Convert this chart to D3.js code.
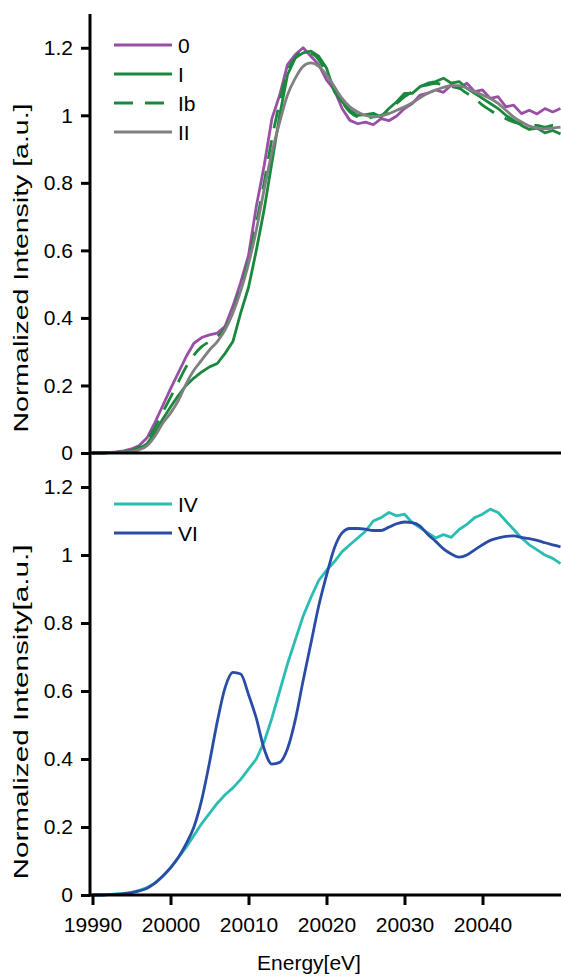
<!DOCTYPE html>
<html>
<head>
<meta charset="utf-8">
<script src="https://cdn.jsdelivr.net/npm/d3@7"></script>
<style>
  body { margin: 0; background: #fff; }
  svg { display: block; font-family: "Liberation Sans", Arial, sans-serif; }
</style>
</head>
<body>
<svg width="561" height="976"></svg>
<script>
var width = 561,
  height = 976;

// energy grid, 1 eV steps
var energy = d3.range(19990, 20051, 1);

var s0 = [0, 0, 0.001, 0.003, 0.006, 0.012, 0.022, 0.045, 0.09, 0.14,
  0.19, 0.237, 0.285, 0.325, 0.342, 0.35, 0.355, 0.375, 0.435, 0.505,
  0.585, 0.73, 0.85, 0.99, 1.06, 1.15, 1.18, 1.2, 1.175, 1.15,
  1.105, 1.075, 1.02, 0.985, 0.975, 0.98, 0.972, 0.99, 0.984, 0.998,
  1.02, 1.035, 1.06, 1.066, 1.075, 1.068, 1.09, 1.08, 1.095, 1.07,
  1.075, 1.05, 1.055, 1.025, 1.03, 1.005, 1.015, 1.004, 1.02, 1.01, 1.02];

var sI = [0, 0, 0.001, 0.002, 0.003, 0.005, 0.012, 0.028, 0.06, 0.1,
  0.136, 0.17, 0.2, 0.222, 0.24, 0.255, 0.265, 0.295, 0.33, 0.415,
  0.49, 0.6, 0.72, 0.86, 1.0, 1.12, 1.17, 1.185, 1.19, 1.175,
  1.14, 1.07, 1.04, 1.015, 1.0, 1.002, 1.006, 0.995, 1.02, 1.04,
  1.065, 1.065, 1.085, 1.095, 1.1, 1.11, 1.095, 1.1, 1.08, 1.065,
  1.05, 1.035, 1.02, 1.0, 0.985, 0.97, 0.958, 0.962, 0.948, 0.955, 0.945];

var sIb = [0, 0, 0.001, 0.002, 0.004, 0.008, 0.018, 0.038, 0.075, 0.12,
  0.165, 0.21, 0.255, 0.29, 0.315, 0.33, 0.345, 0.37, 0.42, 0.49,
  0.57, 0.68, 0.8, 0.93, 1.04, 1.13, 1.17, 1.19, 1.185, 1.165,
  1.125, 1.08, 1.04, 1.01, 0.995, 0.99, 0.995, 1.0, 1.015, 1.035,
  1.055, 1.07, 1.085, 1.09, 1.095, 1.09, 1.085, 1.08, 1.065, 1.05,
  1.03, 1.015, 1.0, 0.99, 0.98, 0.975, 0.97, 0.97, 0.965, 0.97, 0.97];

var sII = [0, 0, 0.001, 0.002, 0.003, 0.004, 0.01, 0.022, 0.05, 0.088,
  0.118, 0.155, 0.205, 0.245, 0.275, 0.305, 0.33, 0.365, 0.415, 0.48,
  0.56, 0.66, 0.78, 0.89, 0.98, 1.06, 1.11, 1.145, 1.155, 1.145,
  1.12, 1.085, 1.05, 1.025, 1.01, 1.0, 0.996, 0.998, 1.005, 1.015,
  1.025, 1.037, 1.052, 1.065, 1.075, 1.083, 1.088, 1.088, 1.08, 1.07,
  1.06, 1.05, 1.035, 1.015, 0.995, 0.98, 0.968, 0.962, 0.96, 0.962, 0.965];

var sIV = [0, 0, 0.001, 0.003, 0.005, 0.008, 0.014, 0.022, 0.035, 0.055,
  0.08, 0.11, 0.14, 0.175, 0.21, 0.24, 0.27, 0.295, 0.315, 0.34,
  0.37, 0.4, 0.45, 0.52, 0.6, 0.68, 0.75, 0.82, 0.875, 0.925,
  0.955, 0.98, 1.01, 1.03, 1.05, 1.07, 1.1, 1.11, 1.125, 1.115,
  1.12, 1.095, 1.08, 1.065, 1.05, 1.06, 1.052, 1.075, 1.09, 1.11,
  1.12, 1.135, 1.125, 1.1, 1.075, 1.05, 1.03, 1.015, 1.0, 0.99, 0.975];

var sVI = [0, 0, 0.001, 0.002, 0.004, 0.007, 0.012, 0.02, 0.035, 0.055,
  0.08, 0.11, 0.15, 0.2, 0.28, 0.39, 0.51, 0.61, 0.655, 0.65,
  0.59, 0.52, 0.43, 0.385, 0.39, 0.43, 0.515, 0.63, 0.74, 0.85,
  0.94, 1.02, 1.065, 1.078, 1.078, 1.076, 1.072, 1.072, 1.082, 1.092,
  1.097, 1.095, 1.085, 1.06, 1.04, 1.018, 1.003, 0.994, 1.0, 1.015,
  1.03, 1.043, 1.05, 1.055, 1.056, 1.052, 1.048, 1.043, 1.036, 1.03, 1.024];

var yTicks = [0, 0.2, 0.4, 0.6, 0.8, 1, 1.2];
var xTicks = [19990, 20000, 20010, 20020, 20030, 20040];

// noisy measured curves are drawn straight point to point, fitted ones smooth
var topSeries = [
  { name: "0", values: s0, color: "#9a4fa6", dash: null, smooth: false },
  { name: "I", values: sI, color: "#1a893d", dash: null, smooth: false },
  { name: "Ib", values: sIb, color: "#1a893d", dash: "19,12", smooth: true },
  { name: "II", values: sII, color: "#808080", dash: null, smooth: true }
];
var bottomSeries = [
  { name: "IV", values: sIV, color: "#2bbdb3", dash: null, smooth: false },
  { name: "VI", values: sVI, color: "#2a4ca6", dash: null, smooth: true }
];

var svg = d3.select("svg");

var x = d3.scaleLinear().domain([19990, 20050]).range([92.5, 560.5]);
var yTop = d3.scaleLinear().domain([0, 1.3]).range([453, 14]);
var yBot = d3.scaleLinear().domain([0, 1.3]).range([895, 453]);

var fmt = (d) => (d === 0 ? "0" : d === 1 ? "1" : d3.format(".1f")(d));

function panel(series, y, legendY, title, titleY, titleLen) {
  var g = svg.append("g");

  var line = (d) =>
    d3
      .line()
      .x((v, i) => x(energy[i]))
      .y((v) => y(v))
      .curve(d.smooth ? d3.curveMonotoneX : d3.curveLinear)(d.values);

  g.selectAll("path.series")
    .data(series)
    .enter()
    .append("path")
    .attr("class", "series")
    .attr("d", line)
    .attr("fill", "none")
    .attr("stroke", (d) => d.color)
    .attr("stroke-width", 2.8)
    .attr("stroke-dasharray", (d) => d.dash)
    .attr("stroke-linejoin", "round");

  // left axis
  var ax = g
    .append("g")
    .attr("transform", "translate(90,0)")
    .call(d3.axisLeft(y).tickValues(yTicks).tickFormat(fmt).tickSize(9).tickPadding(8));
  ax.select(".domain").remove();
  ax.selectAll("line").attr("stroke", "#000").attr("stroke-width", 3);
  ax.selectAll("text").attr("font-size", 21).attr("fill", "#000").attr("font-family", "Liberation Sans, Arial, sans-serif");

  // zero baseline across the panel
  g.append("line")
    .attr("x1", 90)
    .attr("x2", width)
    .attr("y1", y(0))
    .attr("y2", y(0))
    .attr("stroke", "#000")
    .attr("stroke-width", 3);

  // legend
  var leg = g
    .selectAll("g.leg")
    .data(series)
    .enter()
    .append("g")
    .attr("class", "leg")
    .attr("transform", (d, i) => "translate(0," + (legendY + i * 29) + ")");
  leg.append("line")
    .attr("x1", 114)
    .attr("x2", 172)
    .attr("stroke", (d) => d.color)
    .attr("stroke-width", 3)
    .attr("stroke-dasharray", (d) => d.dash);
  leg.append("text")
    .attr("x", 178)
    .attr("dy", "0.36em")
    .attr("font-size", 21)
    .text((d) => d.name);

  // y title, stretched like the original
  g.append("text")
    .attr("transform", "translate(28," + titleY + ") rotate(-90)")
    .attr("text-anchor", "middle")
    .attr("font-size", 21)
    .attr("textLength", titleLen)
    .attr("lengthAdjust", "spacingAndGlyphs")
    .text(title);
}

panel(topSeries, yTop, 45, "Normalized Intensity [a.u.]", 268, 329);
panel(bottomSeries, yBot, 504, "Normalized Intensity[a.u.]", 712, 335);

// vertical axis line through both panels
svg.append("line")
  .attr("x1", 90)
  .attr("x2", 90)
  .attr("y1", 14)
  .attr("y2", 896.5)
  .attr("stroke", "#000")
  .attr("stroke-width", 3);

// bottom x axis ticks
var xa = svg
  .append("g")
  .attr("transform", "translate(0,895)")
  .call(d3.axisBottom(x).tickValues(xTicks).tickFormat(d3.format("d")).tickSize(10).tickPadding(12));
xa.select(".domain").remove();
xa.selectAll("line").attr("stroke", "#000").attr("stroke-width", 3);
xa.selectAll("text").attr("font-size", 21).attr("fill", "#000").attr("font-family", "Liberation Sans, Arial, sans-serif");

svg.append("text")
  .attr("x", 309)
  .attr("y", 970)
  .attr("text-anchor", "middle")
  .attr("font-size", 21)
  .text("Energy[eV]");
</script>
</body>
</html>
